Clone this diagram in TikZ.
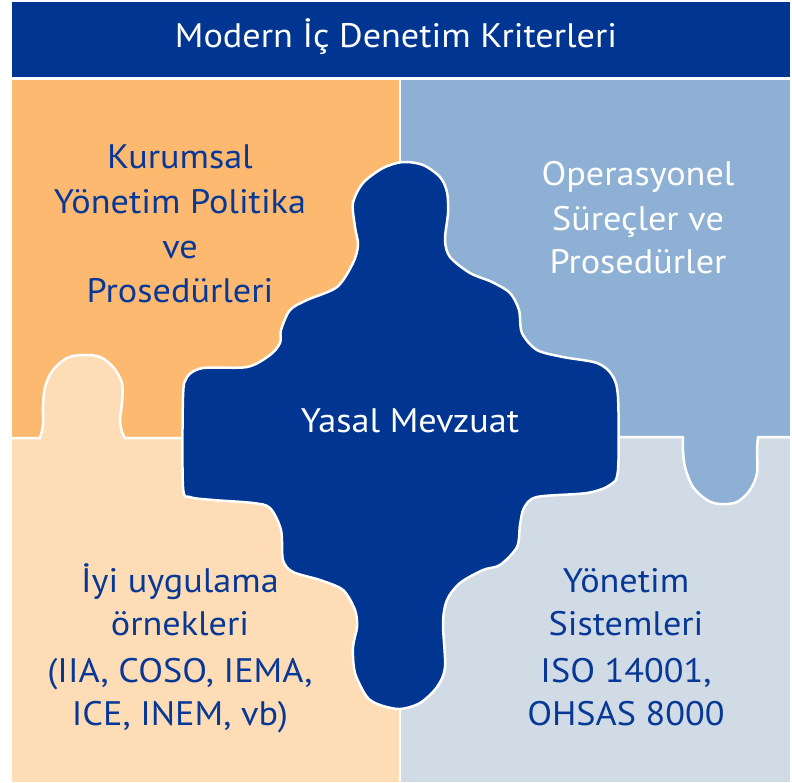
\documentclass[tikz,border=0pt]{standalone}
\usepackage{fontspec}
\setmainfont[FakeStretch=1.065]{PT Sans}
\definecolor{navy}{RGB}{0,53,145}
\definecolor{inkblue}{RGB}{8,56,150}
\definecolor{orangepiece}{RGB}{254,185,113}
\definecolor{bluepiece}{RGB}{141,176,212}
\definecolor{peachpiece}{RGB}{254,221,182}
\definecolor{greypiece}{RGB}{208,219,230}
\tikzset{
  seam/.style={draw=white, line width=2.5pt, line join=round},
  label/.style={anchor=base, inner sep=0pt, font=\fontsize{34}{34}\selectfont},
  darklabel/.style={label, text=inkblue},
  lightlabel/.style={label, text=white},
}
\begin{document}
\begin{tikzpicture}[x=1pt, y=-1pt]
\useasboundingbox (0,0) rectangle (792,782);
\fill[white] (0,0) rectangle (792,782);

% title banner
\fill[navy] (12,2) rectangle (790,77);
\node[lightlabel] (title) at (396,47) {Modern İç Denetim Kriterleri};

% four quarters
\fill[orangepiece] (12,80) rectangle (400,438);
\fill[bluepiece] (400,80) rectangle (790,437);
\fill[peachpiece] (12,438) rectangle (400,782);
\fill[greypiece] (400,437) rectangle (790,782);

% tab of the lower left piece reaching up
\path[seam, fill=peachpiece] (12,438) -- plot[smooth, tension=0.55] coordinates {
  (40,438) (43,425) (43,407) (45,387) (53,370) (67,358) (83,355) (100,357)
  (113,367) (122,383) (122,403) (120,420) (122,432) (125,438)} -- (190,438);

% tab of the upper right piece reaching down
\path[seam, fill=bluepiece] (610,437) -- plot[smooth, tension=0.55] coordinates {
  (683,437) (683,450) (685,467) (693,487) (707,500) (720,504) (737,502)
  (750,490) (757,473) (757,450) (758,437)} -- (790,437);

% vertical seam
\draw[seam] (400,80) -- (400,782);

% central cross-shaped piece
\path[seam, fill=navy] plot[smooth cycle, tension=0.5] coordinates {
  (403,162) (423,165) (440,177) (447,192) (448,213) (445,240) (450,257)
  (470,273) (492,282) (510,293) (519,310) (522,333) (537,350) (563,357)
  (597,363) (612,375) (618,397) (618,470) (610,485) (587,493) (537,497)
  (524,508) (520,525) (517,547) (500,565) (483,570) (460,583) (447,600)
  (443,623) (445,667) (437,687) (420,703) (400,709) (380,705) (367,697)
  (355,673) (353,647) (357,627) (355,610) (343,590) (320,580) (293,572)
  (283,560) (281,530) (270,508) (253,503) (213,500) (190,497) (183,487)
  (183,397) (187,377) (203,368) (247,367) (270,355) (280,343) (281,330)
  (290,310) (307,300) (337,287) (353,263) (358,245) (355,227) (353,203)
  (363,183) (383,168)};

% texts
\node[darklabel] (tl1) at (180,168) {Kurumsal};
\node[darklabel] (tl2) at (180,213) {Yönetim Politika};
\node[darklabel] (tl3) at (180,258) {ve};
\node[darklabel] (tl4) at (180,302) {Prosedürleri};

\node[lightlabel] (tr1) at (638,185) {Operasyonel};
\node[lightlabel] (tr2) at (638,230) {Süreçler ve};
\node[lightlabel] (tr3) at (638,273) {Prosedürler};

\node[lightlabel] (mid) at (410,432) {Yasal Mevzuat};

\node[darklabel] (bl1) at (180,592) {İyi uygulama};
\node[darklabel] (bl2) at (180,635) {örnekleri};
\node[darklabel] (bl3) at (180,682) {(IIA, COSO, IEMA,};
\node[darklabel] (bl4) at (180,725) {ICE, INEM, vb)};

\node[darklabel] (br1) at (626,592) {Yönetim};
\node[darklabel] (br2) at (626,635) {Sistemleri};
\node[darklabel] (br3) at (626,682) {ISO 14001,};
\node[darklabel] (br4) at (626,725) {OHSAS 8000};
\end{tikzpicture}
\end{document}
